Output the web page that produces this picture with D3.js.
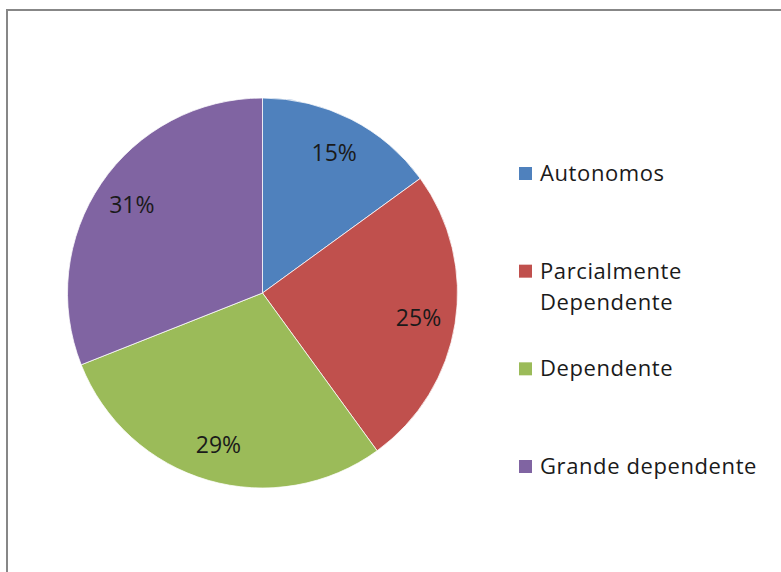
<!DOCTYPE html>
<html>
<head>
<meta charset="utf-8">
<script src="https://cdn.jsdelivr.net/npm/d3@7"></script>
<style>
  body { margin: 0; background: #fff; }
  svg text { font-family: "Open Sans", sans-serif; fill: #1a1a1a; }
</style>
</head>
<body>
<div class="chart"></div>
<script>
// categories -> values (percent)
var categories = ['Autonomos', 'Parcialmente Dependente', 'Dependente', 'Grande dependente'];
var values = [15, 25, 29, 31];
// legend lines (wrapped like the original)
var legendLines = [['Autonomos'], ['Parcialmente', 'Dependente'], ['Dependente'], ['Grande dependente']];

var palette = ['#4f81bd', '#c0504d', '#9bbb59', '#8064a2'];

var width = 781, height = 572;
var cx = 262.5, cy = 293, radius = 195;

var svg = d3.select('.chart').append('svg')
    .attr('width', width)
    .attr('height', height);

// chart frame (runs off the right / bottom)
svg.append('rect')
    .attr('x', 7)
    .attr('y', 10)
    .attr('width', width + 20)
    .attr('height', height + 20)
    .attr('fill', 'none')
    .attr('stroke', '#878787')
    .attr('stroke-width', 2);

var data = categories.map((c, i) => { return { cat: c, value: values[i] }; });

var color = d3.scaleOrdinal()
    .domain(categories)
    .range(palette);

var pie = d3.pie()
    .sort(null)
    .value((d) => { return d.value; });

var arc = d3.arc()
    .innerRadius(0)
    .outerRadius(radius);

var labelArc = d3.arc()
    .innerRadius(radius * 0.81)
    .outerRadius(radius * 0.81);

var g = svg.append('g')
    .attr('transform', `translate(${cx}, ${cy})`);

var total = d3.sum(values);

g.selectAll('.slice')
    .data(pie(data))
    .enter().append('path')
    .attr('class', 'slice')
    .attr('d', arc)
    .attr('fill', (d) => { return color(d.data.cat); })
    .attr('stroke', '#fff')
    .attr('stroke-width', 0.75);

g.selectAll('.lbl')
    .data(pie(data))
    .enter().append('text')
    .attr('class', 'lbl')
    .attr('transform', (d) => { return `translate(${labelArc.centroid(d)})`; })
    .attr('text-anchor', 'middle')
    .attr('dy', '0.36em')
    .style('font-size', '23px')
    .text((d) => { return Math.round(d.data.value / total * 100) + '%'; });

/* legend */
var legendY = d3.scalePoint()
    .domain(categories)
    .range([181, 474]);

var legend = svg.selectAll('.legend')
    .data(data)
    .enter().append('g')
    .attr('class', 'legend')
    .attr('transform', (d) => { return `translate(519, ${legendY(d.cat)})`; });

legend.append('rect')
    .attr('x', 0)
    .attr('y', -14)
    .attr('width', 13)
    .attr('height', 13)
    .attr('fill', (d) => { return color(d.cat); });

legend.append('text')
    .attr('x', 21)
    .attr('y', 0)
    .style('font-size', '22px')
    .style('letter-spacing', '0.6px')
    .selectAll('tspan')
    .data((d, i) => { return legendLines[i]; })
    .enter().append('tspan')
    .attr('x', 21)
    .attr('dy', (d, i) => { return i === 0 ? 0 : 31; })
    .text((d) => { return d; });
</script>
</body>
</html>
